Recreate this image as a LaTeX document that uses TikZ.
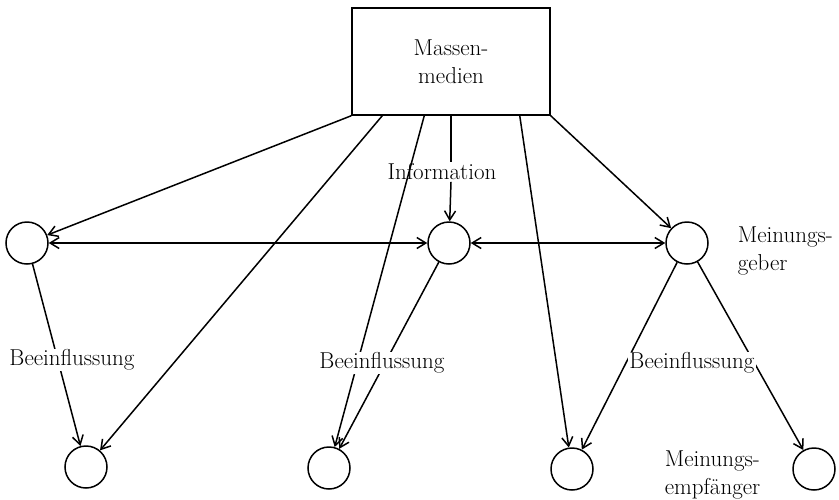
\documentclass[tikz,border=0pt]{standalone}
\usepackage{fontspec}
\usetikzlibrary{arrows.meta}
\tikzset{
  geber/.style={draw, circle, minimum size=42pt, inner sep=0pt, line width=1.5pt},
  medienbox/.style={draw, rectangle, minimum width=198pt, minimum height=107pt, line width=1.5pt, align=center},
  beschrift/.style={fill=white, inner sep=1pt, align=left},
}
\begin{document}
\begin{tikzpicture}[x=1pt,y=-1pt,line width=1.5pt,font=\fontsize{23}{28}\selectfont,
  >={Straight Barb[length=9pt,width=11pt,line width=1.5pt]}]
\useasboundingbox (0,0) rectangle (839,499);
% Drawing nodes
\node[medienbox] (medien) at (451,61.5) {Massen-\\medien};
% Line 1: Meinungsgeber
\node[geber] (ga) at (27,243) {};
\node[geber] (gb) at (449,243) {};
\node[geber] (gc) at (687,243) {};
% Line 2: Meinungsempfaenger
\node[geber] (ea) at (86,467) {};
\node[geber] (eb) at (329,468) {};
\node[geber] (ec) at (572,469) {};
\node[geber] (ed) at (814,469) {};
\node[beschrift] (info) at (442,172) {Information};
% Done with nodes; drawing information flow
\draw[->] (medien.south west) -- (ga);
\draw[->] ([xshift=31pt]medien.south west) -- (ea);
\draw[->] ([xshift=73pt]medien.south west) -- (eb);
\draw (medien.south) -- (medien.south |- info.north);
\draw[->] (medien.south |- info.south) -- (gb);
\draw[->] ([xshift=-31pt]medien.south east) -- (ec);
\draw[->] (medien.south east) -- (gc);
% Line 3: exchange between Meinungsgeber
\draw[<->] (ga) -- (gb);
\draw[<->] (gb) -- (gc);
% Line 4: Beeinflussung
\draw[->] (ga) -- (ea);
\draw[->] (gb) -- (eb);
\draw[->] (gc) -- (ec);
\draw[->] (gc) -- (ed);
% Done with connectors; drawing labels
\node[beschrift] (bea) at (72,360) {Beeinflussung};
\node[beschrift] (beb) at (382,363) {Beeinflussung};
\node[beschrift] (bec) at (692,363) {Beeinflussung};
\node[beschrift, fill=none, anchor=west] (lgeber) at (736,251) {Meinungs-\\geber};
\node[beschrift, fill=none, anchor=west] (lempf) at (663,475) {Meinungs-\\empf\"anger};
% Done with labels
\end{tikzpicture}
\end{document}
